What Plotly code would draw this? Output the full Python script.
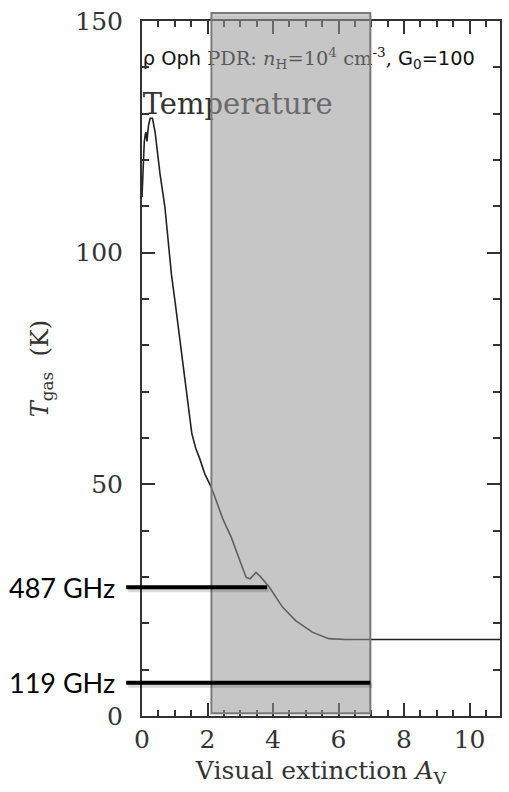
import plotly.graph_objects as go

# ---- data ----
av = [0.0, 0.03, 0.07, 0.1, 0.12, 0.15, 0.2, 0.25, 0.32, 0.4, 0.55, 0.7, 0.9, 1.01,
      1.16, 1.21, 1.36, 1.52, 1.64, 1.76, 1.92, 2.12, 2.47, 2.73, 3.0, 3.18, 3.3, 3.4,
      3.48, 3.6, 3.89, 4.29, 4.69, 5.2, 5.7, 6.21, 6.6, 7.0, 8.0, 9.0, 10.0, 10.93]
t_gas = [112, 119, 124, 125.5, 126, 124, 127.5, 129, 129, 126, 117, 109.8, 95.2, 89.4,
         80.8, 78, 69, 61, 57.8, 55.6, 52.2, 49.3, 42.5, 38.5, 33.3, 29.9, 29.6, 30.5,
         31.0, 30.2, 27.8, 23.5, 20.6, 18.1, 16.7, 16.5, 16.5, 16.5, 16.5, 16.5, 16.5, 16.5]

shade_av = [2.12, 6.97]          # shaded A_V band
shade_t = [0.6, 151.7]           # vertical extent of band (K)

freq_labels = ["487 GHz", "119 GHz"]
freq_t = [27.8, 7.2]             # K
freq_av_start = [-0.53, -0.53]
freq_av_end = [3.82, 6.97]

X_MAX = 10.93
Y_MAX = 150
PLOT_W = 360

fig = go.Figure()

fig.add_trace(go.Scatter(x=av, y=t_gas, mode="lines",
                         line=dict(color="#222222", width=1.6), showlegend=False,
                         hoverinfo="skip"))

# Text inside plot (as a trace so the translucent band overlays it)
fig.add_trace(go.Scatter(
    x=[0.02, 0.02], y=[141.6, 131.5], mode="text",
    text=["<span style='font-family:DejaVu Sans'>ρ Oph</span> PDR: <i>n</i><sub>H</sub>=10<sup>4</sup> cm<sup>-3</sup>, "
          "<span style='font-family:DejaVu Sans'>G<sub>0</sub>=100</span>",
          "Temperature"],
    textposition="middle right",
    textfont=dict(family="DejaVu Serif", size=[19.4, 29], color=["#111111", "#333333"]),
    showlegend=False, hoverinfo="skip", cliponaxis=False))

# soft shadow of the band
fig.add_shape(type="rect", xref="x", yref="paper",
              x0=shade_av[0] + 0.06, x1=shade_av[1] + 0.06,
              y0=shade_t[0] / Y_MAX - 0.004, y1=shade_t[1] / Y_MAX - 0.004,
              fillcolor="rgba(0,0,0,0.06)", line=dict(width=0), layer="below")
# shaded band
fig.add_shape(type="rect", xref="x", yref="paper",
              x0=shade_av[0], x1=shade_av[1],
              y0=shade_t[0] / Y_MAX, y1=shade_t[1] / Y_MAX,
              fillcolor="rgba(156,156,156,0.51)",
              line=dict(color="#7a7a7a", width=2), layer="above")

# frequency lines + labels
for lab, t, s, e in zip(freq_labels, freq_t, freq_av_start, freq_av_end):
    fig.add_annotation(x=e, y=t, xref="x", yref="y", ax=s, ay=t, axref="x", ayref="y",
                       text="", showarrow=True, arrowhead=0, arrowwidth=4,
                       arrowcolor="rgba(0,0,0,0.15)", standoff=0, startstandoff=0,
                       xshift=2, yshift=-3)
    fig.add_annotation(x=e, y=t, xref="x", yref="y", ax=s, ay=t, axref="x", ayref="y",
                       text="", showarrow=True, arrowhead=0, arrowwidth=4,
                       arrowcolor="black", standoff=0, startstandoff=0)
    fig.add_annotation(x=s / X_MAX - 8 / PLOT_W, y=t, xref="paper", yref="y",
                       text=lab, showarrow=False, xanchor="right", yanchor="middle",
                       font=dict(family="Lato", size=27, color="black"))

axis_common = dict(showline=True, linecolor="#333333", linewidth=2, mirror="ticks",
                   ticks="inside", tickcolor="#333333", tickwidth=1.5, ticklen=13,
                   showgrid=False, zeroline=False,
                   tickfont=dict(family="DejaVu Serif", size=25, color="#333333"))

fig.update_xaxes(range=[0, X_MAX], tick0=0, dtick=2,
                 minor=dict(dtick=0.5, ticks="inside", ticklen=6, tickcolor="#333333", tickwidth=1.5),
                 title=dict(text="Visual extinction <i>A</i><sub>V</sub>", standoff=8,
                            font=dict(family="DejaVu Serif", size=25, color="#333333")),
                 **axis_common)
fig.update_yaxes(range=[0, Y_MAX], tick0=0, dtick=50, ticklabelstandoff=12,
                 minor=dict(dtick=10, ticks="inside", ticklen=7, tickcolor="#333333", tickwidth=1.5),
                 title=dict(text="<i>T</i><sub>gas</sub>  (K)", standoff=20,
                            font=dict(family="DejaVu Serif", size=24, color="#333333")),
                 **axis_common)

fig.update_layout(width=509, height=792, margin=dict(l=142, r=7, t=18, b=76),
                  paper_bgcolor="white", plot_bgcolor="white", showlegend=False)

fig.write_html("out.html")
